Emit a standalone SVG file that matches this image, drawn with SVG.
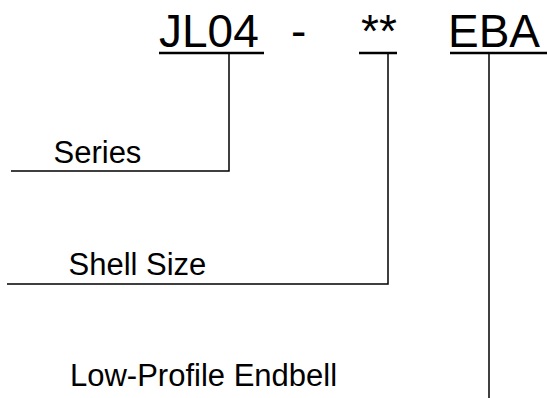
<svg xmlns="http://www.w3.org/2000/svg" width="547" height="398" viewBox="0 0 547 398">
<style>
text{font-family:"Liberation Sans",Arial,sans-serif;fill:#000}
.big{font-size:46px}
.lbl{font-size:31px}
.ul{stroke:#000;stroke-width:2.5;fill:none}
.ln{stroke:#000;stroke-width:1.5;fill:none}
</style>
<rect width="547" height="398" fill="#fff"/>
<g id="code">
<text class="big" x="159" y="47">JL04</text>
<text class="big" x="291" y="47">-</text>
<text class="big" x="361" y="47">**</text>
<text class="big" x="448" y="47">EBA</text>
<line class="ul" x1="159" y1="53" x2="264" y2="53"/>
<line class="ul" x1="359" y1="53" x2="397" y2="53"/>
<line class="ul" x1="450" y1="53" x2="547" y2="53"/>
</g>
<g id="series">
<text class="lbl" x="53.5" y="163">Series</text>
</g>
<g id="shell-size">
<text class="lbl" x="68.5" y="275">Shell Size</text>
</g>
<g id="endbell">
<text class="lbl" x="70" y="386">Low-Profile Endbell</text>
</g>
<g id="connectors">
<polyline class="ln" points="229,53 229,171 11,171"/>
<polyline class="ln" points="388,53 388,284 7,284"/>
<line class="ln" x1="489" y1="53" x2="489" y2="398"/>
</g>
</svg>
